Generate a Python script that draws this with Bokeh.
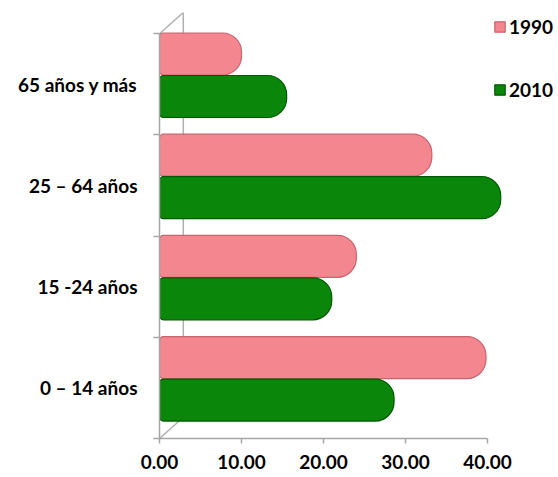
from bokeh.plotting import figure
from bokeh.models import Range1d, FixedTicker, Legend, LegendItem, ColumnDataSource
from bokeh.embed import file_html
from bokeh.resources import INLINE

categories = ["0 – 14 años", "15 -24 años", "25 – 64 años", "65 años y más"]
series_names = ["1990", "2010"]
values_1990 = [39.8, 24.0, 33.2, 10.0]
values_2010 = [28.6, 21.0, 41.6, 15.5]
x_ticks = [0, 10, 20, 30, 40]
x_tick_labels = ["0.00", "10.00", "20.00", "30.00", "40.00"]

FONT = "Lato"
centers = [i + 0.5 for i in range(len(categories))]
y_1990 = [c + 0.30 for c in centers]
y_2010 = [c - 0.12 for c in centers]
BAR_H = 0.415
DEPTH_X = 2.9
DEPTH_Y = 0.21

p = figure(width=556, height=475, output_backend="svg", toolbar_location=None,
           x_range=Range1d(0, 48.4), y_range=Range1d(0, 4 + DEPTH_Y),
           min_border_left=159, min_border_right=0, min_border_top=12, min_border_bottom=37)
p.outline_line_color = None
p.grid.visible = False
p.background_fill_color = "white"

# back wall lines (3D frame decoration)
n = len(categories)
p.segment(x0=[0, DEPTH_X, 0], y0=[n, n + DEPTH_Y, 0],
          x1=[DEPTH_X, DEPTH_X, DEPTH_X], y1=[n + DEPTH_Y, DEPTH_Y, DEPTH_Y],
          line_color="#b0b0b0", line_width=1.5)

src1 = ColumnDataSource(dict(y=y_1990, right=values_1990))
src2 = ColumnDataSource(dict(y=y_2010, right=values_2010))
r1 = p.hbar(y="y", right="right", left=0, height=BAR_H, source=src1,
            fill_color="#f4868f", line_color="#c8646e", line_width=1.2,
            border_radius=(4, 19, 19, 4))
r2 = p.hbar(y="y", right="right", left=0, height=BAR_H, source=src2,
            fill_color="#0a870a", line_color="#005800", line_width=1.2,
            border_radius=(4, 19, 19, 4))

# axes
xa = p.xaxis[0]
xa.ticker = FixedTicker(ticks=x_ticks)
xa.major_label_overrides = {t: l for t, l in zip(x_ticks, x_tick_labels)}
xa.bounds = (0, 40)
xa.axis_line_color = "#a6a6a6"
xa.axis_line_width = 1.5
xa.major_tick_line_color = "#a6a6a6"
xa.major_tick_line_width = 1.5
xa.major_tick_in = 0
xa.major_tick_out = 5
xa.minor_tick_line_color = None
xa.major_label_text_font = FONT
xa.major_label_text_font_style = "bold"
xa.major_label_text_font_size = "19px"
xa.major_label_text_color = "black"
xa.major_label_standoff = 11

ya = p.yaxis[0]
ya.ticker = FixedTicker(ticks=centers, minor_ticks=list(range(n + 1)))
ya.major_label_overrides = {c: l for c, l in zip(centers, categories)}
ya.bounds = (0, n)
ya.axis_line_color = "#a6a6a6"
ya.axis_line_width = 1.5
ya.major_tick_line_color = None
ya.major_tick_in = 0
ya.major_tick_out = 0
ya.minor_tick_line_color = "#a6a6a6"
ya.minor_tick_line_width = 1.5
ya.minor_tick_in = 0
ya.minor_tick_out = 6
ya.major_label_text_font = FONT
ya.major_label_text_font_style = "bold"
ya.major_label_text_font_size = "19px"
ya.major_label_text_color = "black"
ya.major_label_standoff = 16

legend = Legend(items=[LegendItem(label=series_names[0], renderers=[r1]),
                       LegendItem(label=series_names[1], renderers=[r2])],
                location=(334, 337), orientation="vertical")
legend.glyph_width = 13
legend.glyph_height = 13
legend.label_height = 13
legend.label_standoff = 3
legend.spacing = 40
legend.padding = 0
legend.margin = 0
legend.border_line_color = None
legend.background_fill_alpha = 0
legend.label_text_font = FONT
legend.label_text_font_style = "bold"
legend.label_text_font_size = "19px"
legend.label_text_color = "black"
p.add_layout(legend)

open("out.html", "w").write(file_html(p, INLINE))
